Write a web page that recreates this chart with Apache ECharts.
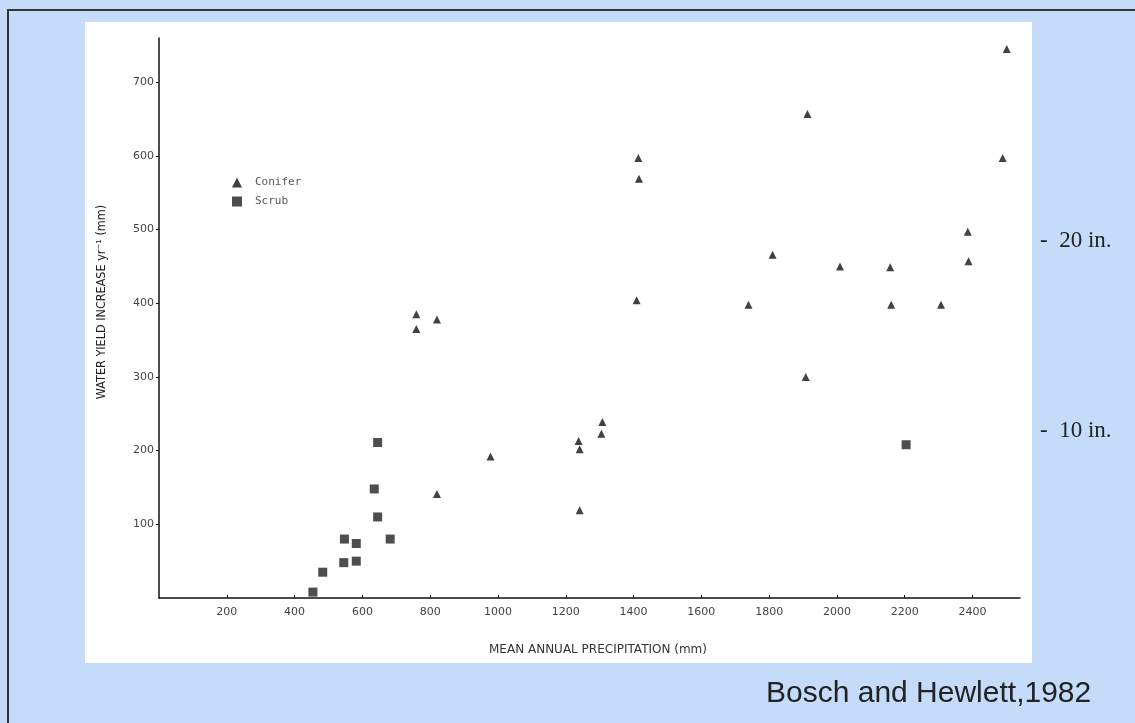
<!DOCTYPE html>
<html>
<head>
<meta charset="utf-8">
<script src="https://cdn.jsdelivr.net/npm/echarts@6/dist/echarts.min.js"></script>
<style>
html,body{margin:0;padding:0;background:#c4dcf9;}
#c{width:1135px;height:723px;}
</style>
</head>
<body>
<div id="c"></div>
<script>
// Data (precipitation mm, water yield increase mm)
const coniferX = [759, 759, 820, 820, 978, 1238, 1241, 1241, 1305, 1308, 1409, 1414, 1416, 1739, 1810, 1908, 1913, 2009, 2157, 2160, 2307, 2386, 2388, 2489, 2501];
const coniferY = [385, 365, 378, 141, 192, 213, 202, 119, 223, 239, 404, 597, 569, 398, 466, 300, 657, 450, 449, 398, 398, 497, 457, 597, 745];
const scrubX = [454, 483, 545, 547, 582, 582, 635, 645, 645, 682, 2204];
const scrubY = [8, 35, 48, 80, 50, 74, 148, 211, 110, 80, 208];
const xTickStep = 200;
const yTickStep = 100;
const seriesNames = ['Conifer', 'Scrub'];
const xAxisTitle = 'MEAN ANNUAL PRECIPITATION (mm)';
const yAxisTitle = 'WATER YIELD INCREASE yr\u207B\u00B9 (mm)';
const inchLabels = ['-  20 in.', '-  10 in.'];
const credit = 'Bosch and Hewlett,1982';

const pair = (xs, ys) => xs.map((x, i) => [x, ys[i]]);
const labelFont = "'DejaVu Sans', sans-serif";
const chart = echarts.init(document.getElementById('c'), null, {renderer: 'canvas'});
chart.setOption({
  backgroundColor: '#c4dcf9',
  animation: false,
  grid: {left: 159, top: 38, right: 115, bottom: 125, containLabel: false},
  graphic: [
    {type: 'rect', z: -100, silent: true, shape: {x: 8, y: 10, width: 1200, height: 800},
     style: {fill: 'none', stroke: '#333', lineWidth: 2}},
    {type: 'rect', z: -90, silent: true, shape: {x: 85, y: 22, width: 947, height: 641},
     style: {fill: '#ffffff'}},
    {type: 'text', left: 1040, top: 229, style: {text: inchLabels[0], font: "23px 'Liberation Serif', serif", fill: '#222'}},
    {type: 'text', left: 1040, top: 419, style: {text: inchLabels[1], font: "23px 'Liberation Serif', serif", fill: '#222'}},
    {type: 'text', left: 766, top: 679, style: {text: credit, font: "30px 'Liberation Sans', Arial, sans-serif", fill: '#222'}},
    {type: 'text', x: 102, y: 302, rotation: Math.PI / 2, silent: true,
     style: {text: yAxisTitle, font: "12.5px 'DejaVu Sans Condensed', 'Liberation Sans Narrow', sans-serif", fill: '#222', align: 'center', verticalAlign: 'middle'}},
    {type: 'text', x: 598, y: 650, silent: true,
     style: {text: xAxisTitle, font: "12px 'DejaVu Sans', sans-serif", fill: '#333', align: 'center', verticalAlign: 'middle'}}
  ],
  legend: {
    orient: 'vertical', left: 227, top: 172, itemWidth: 10, itemHeight: 10, itemGap: 8,
    data: [{name: seriesNames[0], icon: 'triangle'}, {name: seriesNames[1], icon: 'rect'}],
    textStyle: {fontFamily: "'DejaVu Sans Mono', monospace", fontSize: 11, color: '#555', padding: [0, 0, 0, 8]},
    selectedMode: false
  },
  xAxis: {
    type: 'value', min: 0, max: 2540, interval: xTickStep,
    axisLine: {lineStyle: {color: '#111', width: 1.5}},
    axisTick: {inside: true, length: 3, lineStyle: {color: '#111'}},
    splitLine: {show: false},
    axisLabel: {showMinLabel: false, showMaxLabel: false, margin: 9, color: '#444', fontFamily: labelFont, fontSize: 11,
      formatter: v => (v % xTickStep === 0 && v > 0) ? String(v) : ''}
  },
  yAxis: {
    type: 'value', min: 0, max: 760, interval: yTickStep,
    axisLine: {show: true, lineStyle: {color: '#111', width: 1.5}},
    axisTick: {show: true, inside: false, length: 3, lineStyle: {color: '#111'}},
    splitLine: {show: false},
    axisLabel: {showMinLabel: false, showMaxLabel: false, margin: 5, color: '#444', fontFamily: labelFont, fontSize: 11,
      formatter: v => (v % yTickStep === 0 && v > 0) ? String(v) : ''}
  },
  series: [
    {name: seriesNames[0], type: 'scatter', symbol: 'triangle', symbolSize: 8,
     itemStyle: {color: '#111'}, data: pair(coniferX, coniferY)},
    {name: seriesNames[1], type: 'scatter', symbol: 'rect', symbolSize: 9,
     itemStyle: {color: '#222'}, data: pair(scrubX, scrubY)}
  ]
});
</script>
</body>
</html>
